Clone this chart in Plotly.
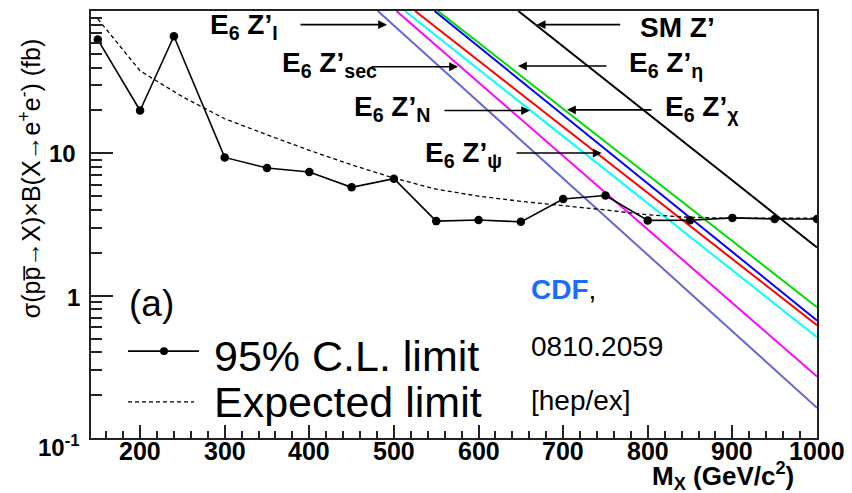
import plotly.graph_objects as go

# ---- data ---------------------------------------------------------------
mass_obs = [150, 200, 240, 300, 350, 400, 450, 500, 550, 600, 650, 700, 750,
            800, 850, 900, 950, 1000]
limit_obs = [63, 20.0, 66.5, 9.36, 7.88, 7.39, 5.77, 6.64, 3.34, 3.4, 3.3,
             4.78, 5.05, 3.38, 3.39, 3.52, 3.46, 3.46]

mass_exp = [150, 200, 250, 300, 350, 400, 450, 500, 550, 600, 650, 700, 750,
            800, 850, 900, 950, 1000]
limit_exp = [88, 38, 25, 17.5, 13.5, 10.5, 8.3, 6.7, 5.6, 5.0, 4.6, 4.3, 4.0,
             3.7, 3.55, 3.5, 3.5, 3.5]

# theory cross sections x BR (fb): mass where curve leaves the frame, and at 1 TeV
mass_sm, xs_sm = [647, 1000], [100, 2.18]
mass_eta, xs_eta = [552, 1000], [100, 0.83]
mass_chi, xs_chi = [548, 1000], [100, 0.67]
mass_psi, xs_psi = [525, 1000], [100, 0.62]
mass_n, xs_n = [513, 1000], [100, 0.51]
mass_sec, xs_sec = [503, 1000], [100, 0.27]
mass_i, xs_i = [481, 1000], [100, 0.163]

x_ticks = [200, 300, 400, 500, 600, 700, 800, 900, 1000]
y_ticks = [0.1, 1, 10]
y_ticktext = ["10<sup>-1</sup>", "1", "10"]
y_minor = [0.2, 0.3, 0.4, 0.5, 0.6, 0.7, 0.8, 0.9,
           2, 3, 4, 5, 6, 7, 8, 9, 20, 30, 40, 50, 60, 70, 80, 90]

# ---- geometry of the frame (pixels) --------------------------------------
W, H = 852, 493
L, R, T, B = 91, 817, 9, 438
FONT = "Liberation Sans, Arial, Helvetica, sans-serif"


def px(x):
    return (x - L) / (R - L)


def py(y):
    return (B - y) / (B - T)


fig = go.Figure()

theory = [
    (mass_i, xs_i, "rgb(102,102,215)"),
    (mass_sec, xs_sec, "rgb(255,0,255)"),
    (mass_n, xs_n, "rgb(0,255,255)"),
    (mass_psi, xs_psi, "rgb(255,0,0)"),
    (mass_chi, xs_chi, "rgb(0,0,255)"),
    (mass_eta, xs_eta, "rgb(0,220,0)"),
    (mass_sm, xs_sm, "rgb(0,0,0)"),
]
for m, xs, c in theory:
    fig.add_trace(go.Scatter(x=m, y=xs, mode="lines",
                             line=dict(color=c, width=2), showlegend=False,
                             hoverinfo="skip"))

fig.add_trace(go.Scatter(x=mass_exp, y=limit_exp, mode="lines",
                         line=dict(color="black", width=1.3, dash="4px,3px"),
                         showlegend=False))
fig.add_trace(go.Scatter(x=mass_obs, y=limit_obs, mode="lines+markers",
                         line=dict(color="black", width=1.6),
                         marker=dict(color="black", size=8.5), showlegend=False))

ann = []

# tick labels, placed below / left of the frame
for v in x_ticks:
    ann.append(dict(text=str(v), x=v, y=py(451), xref="x", yref="paper",
                    xanchor="center", yanchor="middle", showarrow=False,
                    font=dict(family=FONT, size=25, color="black", weight="bold")))
y_label_pos = [(82, 446), (82, 297), (78, 152)]
for txt, (xr, yc) in zip(y_ticktext, y_label_pos):
    ann.append(dict(text=txt, x=px(xr), y=py(yc), xref="paper", yref="paper",
                    xanchor="right", yanchor="middle", showarrow=False,
                    font=dict(family=FONT, size=24, color="black", weight="bold")))

# model labels with arrows
labels = [
    ("E<sub>6</sub> Z’<sub>I</sub>", 208, 25),
    ("E<sub>6</sub> Z’<sub>sec</sub>", 280, 63),
    ("E<sub>6</sub> Z’<sub>N</sub>", 352, 107),
    ("E<sub>6</sub> Z’<sub>ψ</sub>", 423, 153),
    ("SM Z’", 638, 25.5),
    ("E<sub>6</sub> Z’<sub>η</sub>", 627, 63),
    ("E<sub>6</sub> Z’<sub>χ</sub>", 663, 107),
]
for txt, x0, y0 in labels:
    ann.append(dict(text=txt, x=px(x0), y=py(y0), xref="paper", yref="paper",
                    xanchor="left", yanchor="middle", showarrow=False,
                    font=dict(family=FONT, size=28, color="black", weight="bold")))

arrows = [  # (tail x, head x, y)
    (299, 387, 22.7),
    (370, 458, 65),
    (443, 530, 109),
    (515, 601.7, 151.7),
    (621.7, 536.7, 22.7),
    (608, 518, 64.3),
    (653, 567, 108.3),
]
for xt, xh, y in arrows:
    ann.append(dict(text="", x=px(xh), y=py(y), xref="paper", yref="paper",
                    ax=xt - xh, ay=0, showarrow=True, arrowhead=2,
                    arrowsize=1.1, arrowwidth=1.6, arrowcolor="black",
                    standoff=0))

# legend block
ann.append(dict(text="(a)", x=px(127), y=py(303), xref="paper", yref="paper",
                xanchor="left", yanchor="middle", showarrow=False,
                font=dict(family=FONT, size=37, color="black")))
ann.append(dict(text="95% C.L. limit", x=px(212), y=py(356), xref="paper",
                yref="paper", xanchor="left", yanchor="middle", showarrow=False,
                font=dict(family=FONT, size=43, color="black")))
ann.append(dict(text="Expected limit", x=px(212), y=py(402), xref="paper",
                yref="paper", xanchor="left", yanchor="middle", showarrow=False,
                font=dict(family=FONT, size=43, color="black")))

# reference block
ann.append(dict(text="<span style='color:#1a6cff'><b>CDF</b></span>,",
                x=px(529), y=py(289), xref="paper", yref="paper",
                xanchor="left", yanchor="middle", showarrow=False,
                font=dict(family=FONT, size=28, color="black")))
ann.append(dict(text="0810.2059", x=px(529), y=py(346), xref="paper",
                yref="paper", xanchor="left", yanchor="middle", showarrow=False,
                font=dict(family=FONT, size=28, color="black")))
ann.append(dict(text="[hep/ex]", x=px(529), y=py(400), xref="paper",
                yref="paper", xanchor="left", yanchor="middle", showarrow=False,
                font=dict(family=FONT, size=28, color="black")))

# axis titles
ann.append(dict(text="M<sub>X</sub> (GeV/c<sup>2</sup>)", x=px(650), y=py(476),
                xref="paper", yref="paper", xanchor="left", yanchor="middle",
                showarrow=False,
                font=dict(family=FONT, size=26, color="black", weight="bold")))
ann.append(dict(text="σ(pp\u0305→X)×B(X→e<sup>+</sup>e<sup>-</sup>) (fb)",
                x=px(30), y=py(177), xref="paper", yref="paper",
                xanchor="center", yanchor="middle", textangle=-90,
                showarrow=False, font=dict(family=FONT, size=25, color="black")))

shapes = [
    dict(type="line", xref="paper", yref="paper", x0=px(128), x1=px(199),
         y0=py(350.7), y1=py(350.7), line=dict(color="black", width=1.6)),
    dict(type="circle", xref="paper", yref="paper", x0=px(160), x1=px(168),
         y0=py(354.7), y1=py(346.7), fillcolor="black",
         line=dict(color="black", width=0)),
    dict(type="line", xref="paper", yref="paper", x0=px(128), x1=px(194),
         y0=py(401.7), y1=py(401.7),
         line=dict(color="black", width=1.3, dash="4px,3px")),
]

fig.update_layout(
    width=W, height=H,
    margin=dict(l=L, r=W - R, t=T, b=H - B, pad=0),
    paper_bgcolor="white", plot_bgcolor="white",
    showlegend=False,
    annotations=ann, shapes=shapes,
    xaxis=dict(range=[142, 1000], showgrid=False, zeroline=False,
               showline=True, linecolor="#222", linewidth=2, mirror=True,
               ticks="inside", ticklen=13, tickwidth=1.5, tickcolor="#222",
               tickvals=x_ticks, showticklabels=False,
               minor=dict(ticks="inside", ticklen=7, tickwidth=1.5,
                          tickcolor="#222", dtick=20, tick0=0, showgrid=False)),
    yaxis=dict(type="log", range=[-1, 2], showgrid=False, zeroline=False,
               showline=True, linecolor="#222", linewidth=2, mirror=True,
               ticks="inside", ticklen=22, tickwidth=1.5, tickcolor="#222",
               tickvals=y_ticks, showticklabels=False,
               minor=dict(ticks="inside", ticklen=11, tickwidth=1.5,
                          tickcolor="#222", tickvals=y_minor, showgrid=False)),
)

fig.write_html("out.html")
